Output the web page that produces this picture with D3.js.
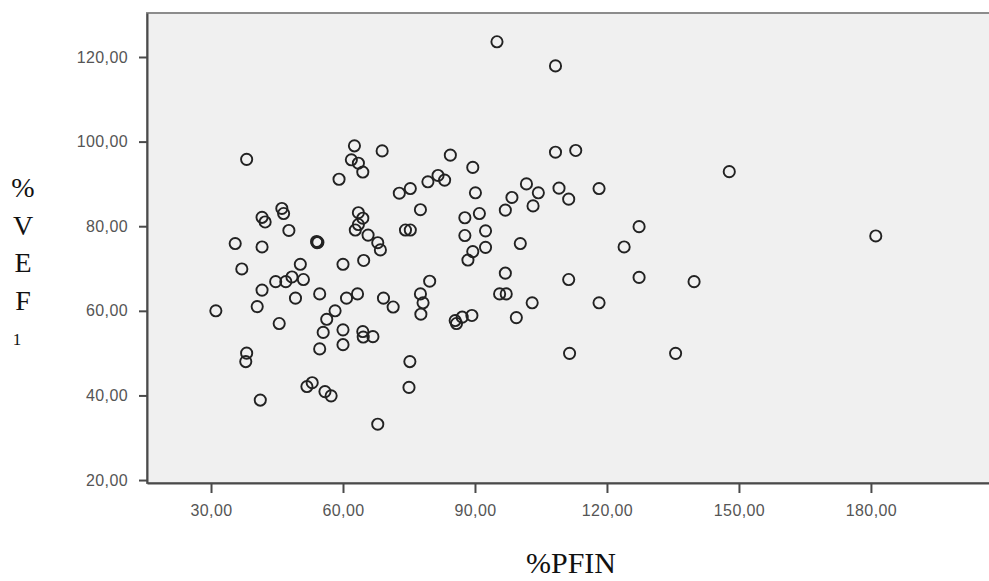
<!DOCTYPE html>
<html>
<head>
<meta charset="utf-8">
<script src="https://cdn.jsdelivr.net/npm/d3@7"></script>
<style>
  html, body { margin: 0; padding: 0; background: #fff; }
  svg { display: block; }
</style>
</head>
<body>
<svg id="chart" width="989" height="581"></svg>
<script>
// %PFIN values (x) and %VEF1 values (y)
const pfin = [
  38.1, 62.6, 68.9, 61.9, 63.5, 64.5, 59.1, 75.3, 72.8, 79.3,
  81.6, 83.1, 77.6, 74.2, 75.3, 41.6, 42.3, 46.1, 46.5, 47.7,
  35.5, 41.6, 54.0, 54.3, 54.1, 63.5, 64.5, 62.8, 63.5, 65.7,
  67.9, 68.5, 64.7, 37.0, 50.3, 60.0, 44.7, 47.0, 48.4, 51.0,
  41.6, 40.5, 31.1, 45.5, 49.2, 38.1, 37.9, 41.2, 54.7, 58.2,
  56.3, 55.5, 54.7, 60.8, 63.3, 60.0, 60.0, 64.5, 64.6, 66.8,
  69.2, 71.4, 51.8, 53.0, 55.9, 57.3, 67.9, 75.2, 75.0, 77.6,
  78.2, 77.7, 79.7, 84.4, 89.5, 90.1, 87.7, 91.0, 87.7, 92.4,
  92.4, 89.5, 88.4, 85.5, 85.8, 87.1, 89.3, 95.6, 97.1, 95.0,
  108.3, 108.3, 112.9, 101.7, 104.4, 98.4, 109.1, 111.3, 118.2, 96.9,
  103.2, 127.3, 100.3, 123.9, 96.9, 111.3, 127.3, 139.8, 103.0, 118.2,
  99.4, 111.5, 135.6, 147.8, 181.1
];
const vef1 = [
  95.8, 99.0, 97.8, 95.7, 94.9, 92.8, 91.1, 88.9, 87.8, 90.5,
  92.0, 90.9, 83.9, 79.1, 79.1, 82.1, 81.0, 84.2, 83.0, 79.0,
  75.9, 75.1, 76.4, 76.2, 76.1, 83.2, 81.9, 79.1, 80.4, 77.9,
  76.1, 74.4, 71.9, 69.9, 71.0, 71.0, 66.9, 66.9, 68.0, 67.4,
  64.9, 61.0, 60.0, 57.0, 63.0, 50.0, 48.0, 38.9, 64.0, 60.0,
  58.0, 54.9, 51.0, 63.0, 64.0, 55.5, 52.0, 55.1, 53.8, 53.9,
  63.0, 60.9, 42.1, 43.0, 40.9, 39.9, 33.2, 48.0, 41.9, 64.0,
  61.9, 59.2, 67.0, 96.8, 93.9, 87.9, 82.0, 83.0, 77.8, 78.9,
  75.0, 74.0, 72.0, 57.7, 57.0, 58.5, 58.9, 64.0, 64.0, 123.6,
  117.9, 97.5, 97.9, 90.0, 87.9, 86.8, 89.0, 86.4, 88.9, 83.8,
  84.8, 79.9, 75.9, 75.1, 68.9, 67.4, 67.9, 66.9, 61.9, 61.9,
  58.4, 49.95, 49.95, 92.9, 77.7
];
const xTicks = [30, 60, 90, 120, 150, 180];
const yTicks = [20, 40, 60, 80, 100, 120];
const xTitle = "%PFIN";
const yTitle = ["%", "V", "E", "F"];
const ySub = "1";

const svg = d3.select("#chart");
const plot = { left: 147, top: 13, right: 995, bottom: 483 };

const x = d3.scaleLinear()
  .domain([15.45, 208.2])
  .range([plot.left, plot.right]);
const y = d3.scaleLinear()
  .domain([19.3, 130.4])
  .range([plot.bottom, plot.top]);

const fmt = v => d3.format(".2f")(v).replace(".", ",");

// panel
svg.append("rect")
  .attr("x", plot.left).attr("y", plot.top)
  .attr("width", plot.right - plot.left).attr("height", plot.bottom - plot.top)
  .attr("fill", "#f0f0f0")
  .attr("stroke", "#8c8c8c").attr("stroke-width", 2);

// axes
const yAxis = d3.axisLeft(y).tickValues(yTicks).tickFormat(fmt)
  .tickSizeInner(8).tickSizeOuter(0).tickPadding(11);
const xAxis = d3.axisBottom(x).tickValues(xTicks).tickFormat(fmt)
  .tickSizeInner(10).tickSizeOuter(0).tickPadding(12);

const gy = svg.append("g").attr("transform", `translate(${plot.left},0)`).call(yAxis);
const gx = svg.append("g").attr("transform", `translate(0,${plot.bottom})`).call(xAxis);

[gx, gy].forEach(g => {
  g.select(".domain").attr("stroke", "#4a4a4a").attr("stroke-width", 2);
  g.selectAll(".tick line").attr("stroke", "#4a4a4a").attr("stroke-width", 2);
  g.selectAll(".tick text")
    .attr("fill", "#555")
    .style("font-family", "'Liberation Sans', Arial, sans-serif")
    .style("font-size", "16px")
    .style("letter-spacing", "0.4px");
});

// points
svg.append("g")
  .selectAll("circle")
  .data(pfin.map((v, i) => [v, vef1[i]]))
  .join("circle")
  .attr("cx", d => x(d[0]))
  .attr("cy", d => y(d[1]))
  .attr("r", 5.6)
  .attr("fill", "none")
  .attr("stroke", "#222")
  .attr("stroke-width", 1.9);

// x title
svg.append("text")
  .attr("x", 571).attr("y", 573)
  .attr("text-anchor", "middle")
  .style("font-family", "'Liberation Serif', 'Times New Roman', serif")
  .style("font-size", "30px")
  .attr("fill", "#111")
  .text(xTitle);

// y title, stacked letters
const yt = svg.append("text")
  .attr("text-anchor", "middle")
  .style("font-family", "'Liberation Serif', 'Times New Roman', serif")
  .attr("fill", "#111");
yTitle.forEach((c, i) => {
  yt.append("tspan")
    .attr("x", 23).attr("y", 197 + i * 37.5)
    .style("font-size", "28px")
    .text(c);
});
yt.append("tspan")
  .attr("x", 17).attr("y", 345)
  .style("font-size", "17px")
  .text(ySub);
</script>
</body>
</html>
